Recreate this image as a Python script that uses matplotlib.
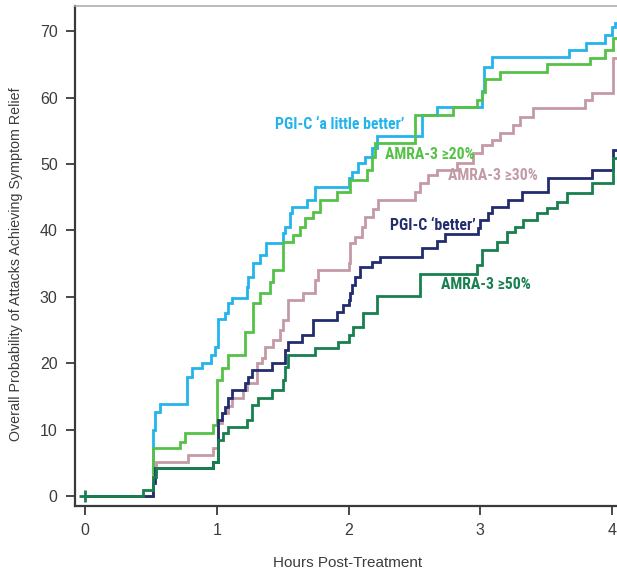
import matplotlib
matplotlib.use("Agg")
import matplotlib.pyplot as plt
from matplotlib import font_manager

# ---------------- data ----------------
hours_little_better = [0, 0.516, 0.53, 0.57, 0.774, 0.81, 0.89, 0.96, 0.99, 1.01, 1.06, 1.085, 1.115,
                       1.23, 1.24, 1.275, 1.33, 1.37, 1.50, 1.52, 1.555, 1.57, 1.685, 1.745, 2.0, 2.03,
                       2.07, 2.125, 2.18, 2.215, 2.56, 2.67, 3.01, 3.03, 3.09, 3.67, 3.80, 3.95, 4.0, 4.02]
pct_little_better = [0, 10, 12.6, 13.9, 18, 19.3, 20, 21.2, 22.4, 26.6, 27.6, 29, 29.8,
                     31.5, 33, 35.1, 36.3, 38.1, 39.6, 40.5, 42.6, 43.5, 44.6, 46.6, 47.9, 48.8,
                     50.1, 51.1, 52.4, 54.2, 57.4, 58.6, 61, 64.6, 66.1, 67.2, 68.2, 69.4, 70.6, 71.3]

hours_amra20 = [0, 0.516, 0.72, 0.76, 0.97, 1.0, 1.04, 1.085, 1.215, 1.275, 1.33, 1.405, 1.43, 1.50,
                1.58, 1.63, 1.67, 1.73, 1.785, 1.91, 2.01, 2.14, 2.18, 2.20, 2.505, 2.79, 2.975,
                3.01, 3.035, 3.15, 3.51, 3.83, 3.95, 4.01]
pct_amra20 = [0, 7.2, 8.1, 9.5, 10.7, 17.5, 19.3, 21.2, 24.7, 29, 30.6, 32.2, 34, 38.3,
              39.3, 40.5, 41.8, 42.8, 44.6, 45.8, 47.6, 49.1, 51, 53.2, 57.4, 58.6, 59.6,
              60.9, 62.8, 63.9, 65, 66, 67.2, 69]

hours_amra30 = [0, 0.516, 0.54, 0.78, 0.97, 1.01, 1.04, 1.085, 1.115, 1.2, 1.23, 1.305, 1.34, 1.365,
                1.43, 1.48, 1.50, 1.54, 1.655, 1.745, 1.77, 2.0, 2.01, 2.05, 2.1, 2.125, 2.185, 2.225,
                2.505, 2.54, 2.60, 2.67, 2.82, 2.945, 3.01, 3.09, 3.15, 3.25, 3.30, 3.40, 3.795, 3.85, 4.01]
pct_amra30 = [0, 3, 5.1, 6.2, 7.2, 11, 12.5, 13.5, 14.8, 16, 17, 20, 20.8, 22.4,
              23.5, 25, 26.5, 29.5, 30.6, 32.5, 34, 35.1, 38.1, 39, 40.5, 42, 43.3, 44.6,
              45.8, 47.1, 48.3, 49.1, 50.1, 51.6, 52.9, 53.6, 54.6, 55.9, 57.1, 58.4, 59.6, 60.7, 66]

hours_better = [0, 0.516, 0.53, 0.97, 1.01, 1.04, 1.06, 1.085, 1.115, 1.215, 1.24, 1.27, 1.42, 1.52,
                1.54, 1.65, 1.73, 1.91, 1.96, 2.0, 2.01, 2.03, 2.05, 2.09, 2.18, 2.24, 2.56, 2.67,
                2.73, 2.98, 3.0, 3.06, 3.09, 3.21, 3.32, 3.515, 3.85, 4.01]
pct_better = [0, 2, 4.2, 5.1, 11.4, 12.5, 13.4, 14.8, 16, 17, 17.9, 19, 20, 22,
              23.2, 24.2, 26.5, 27.7, 28.8, 29.5, 30.6, 31.8, 33, 34.5, 35.2, 36, 37.3, 38.4,
              39.4, 40.3, 41.6, 42.6, 43.5, 44.6, 45.8, 47.9, 49.1, 52.1]

hours_amra50 = [0, 0.44, 0.516, 0.54, 0.97, 1.01, 1.05, 1.085, 1.23, 1.27, 1.31, 1.42, 1.50, 1.52,
                1.54, 1.745, 1.92, 2.0, 2.035, 2.11, 2.215, 2.54, 2.975, 3.01, 3.13, 3.2, 3.265,
                3.325, 3.43, 3.505, 3.58, 3.66, 3.85, 4.01]
pct_amra50 = [0, 0.9, 2.9, 4.2, 5.1, 8.4, 9.5, 10.4, 11.4, 13.7, 14.8, 16, 17.5, 19.4,
              21.2, 22.3, 23.2, 24.2, 25.5, 27.6, 30.2, 33.5, 34.8, 37, 38.3, 39.8, 40.5,
              41.6, 42.6, 43.4, 44.3, 45.6, 47.1, 50.9]

series_labels = ["PGI-C \u2018a little better\u2019", "AMRA-3 \u226520%", "AMRA-3 \u226530%",
                 "PGI-C \u2018better\u2019", "AMRA-3 \u226550%"]
series_colors = ["#22b4ea", "#55c247", "#c49aa6", "#232d6e", "#17804e"]
label_pos = [(1.445, 56.0), (2.28, 51.5), (2.755, 48.3), (2.315, 40.8), (2.70, 31.9)]

x_ticks = [0, 1, 2, 3, 4]
y_ticks = [0, 10, 20, 30, 40, 50, 60, 70]
x_label = "Hours Post-Treatment"
y_label = "Overall Probability of Attacks Achieving Symptom Relief"
end_hour = 4.2

# ---------------- fonts ----------------
avail = {f.name for f in font_manager.fontManager.ttflist}
axis_font = "Liberation Sans Narrow" if "Liberation Sans Narrow" in avail else "Liberation Sans"
label_font = "Roboto Condensed" if "Roboto Condensed" in avail else "Roboto"

fig = plt.figure(figsize=(6.17, 5.74), dpi=100)
ax = fig.add_axes([75 / 617, 1 - 506 / 574, 1 - 75 / 617, (506 - 6) / 574])

all_hours = [hours_little_better, hours_amra20, hours_amra30, hours_better, hours_amra50]
all_pct = [pct_little_better, pct_amra20, pct_amra30, pct_better, pct_amra50]

for hrs, pct, col in zip(all_hours, all_pct, series_colors):
    ax.step(list(hrs) + [end_hour], list(pct) + [pct[-1]], where="post",
            color=col, lw=2.0, solid_joinstyle="miter")

ax.plot([0], [0], marker="+", color=series_colors[-1], ms=8, mew=2, zorder=5)

for lab, (lx, ly), col in zip(series_labels, label_pos, series_colors):
    ax.text(lx, ly, lab, color=col, fontsize=11.3, fontweight="bold",
            family=label_font, ha="left", va="center")

ax.set_xlim(-0.076, (617 - 85) / 131.75)
ax.set_ylim(-1.5, 73.8)
ax.set_xticks(x_ticks)
ax.set_yticks(y_ticks)
ax.set_xticklabels([str(v) for v in x_ticks])
ax.set_yticklabels([str(v) for v in y_ticks])

for side in ["left", "bottom"]:
    ax.spines[side].set_color("#3a3a3a")
    ax.spines[side].set_linewidth(1.6)
ax.spines["top"].set_color("#b0b0b0")
ax.spines["top"].set_linewidth(1.2)
ax.spines["right"].set_visible(False)

ax.tick_params(direction="out", length=6.5, width=1.3, color="#3a3a3a",
               labelsize=11.5, labelcolor="#3c3c3c", pad=6)
for t in ax.get_xticklabels() + ax.get_yticklabels():
    t.set_family(axis_font)

fig.text(348 / 617, 1 - 563 / 574, x_label, ha="center", va="center",
         fontsize=11, color="#3c3c3c", family=axis_font)
fig.text(16 / 617, 1 - 264 / 574, y_label, ha="center", va="center", rotation=90,
         fontsize=10.3, color="#3c3c3c", family=axis_font)

fig.savefig("out.png", dpi=100)
